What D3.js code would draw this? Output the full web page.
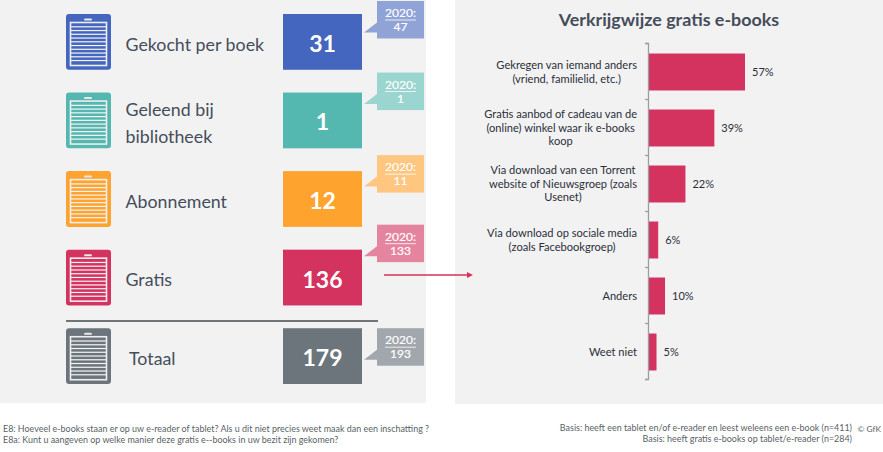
<!DOCTYPE html>
<html>
<head>
<meta charset="utf-8">
<style>
  html, body { margin: 0; padding: 0; background: #fff; overflow: hidden; }
  svg { display: block; }
  text { font-family: Lato, "Open Sans", sans-serif; }
</style>
<script src="https://cdn.jsdelivr.net/npm/d3@7"></script>
</head>
<body>
<svg id="chart" width="883" height="452"></svg>
<script>
// linker kant: aantallen per soort
var rowLabels = [["Gekocht per boek"], ["Geleend bij", "bibliotheek"], ["Abonnement"], ["Gratis"], ["Totaal"]];
var rowValues = [31, 1, 12, 136, 179];
var prevValues = [47, 1, 11, 133, 193];
var prevLabel = "2020:";
var rowColors = ["#4566bf", "#54b8b0", "#ffa32f", "#d4325f", "#6b757b"];
var prevColors = ["#8fa3d6", "#9ad5cf", "#ffc680", "#e5849f", "#a1a7ac"];

// rechter kant: verkrijgwijze
var title = "Verkrijgwijze gratis e-books";
var wayLabels = [
    ["Gekregen van iemand anders", "(vriend, familielid, etc.)"],
    ["Gratis aanbod of cadeau van de", "(online) winkel waar ik e-books", "koop"],
    ["Via download van een Torrent", "website of Nieuwsgroep (zoals", "Usenet)"],
    ["Via download op sociale media", "(zoals Facebookgroep)"],
    ["Anders"],
    ["Weet niet"]
];
var wayValues = [57, 39, 22, 6, 10, 5];

var footLeft = [
    "E8: Hoeveel e-books staan er op uw e-reader of tablet? Als u dit niet precies weet maak dan een inschatting ?",
    "E8a: Kunt u aangeven op welke manier deze gratis e--books in uw bezit zijn gekomen?"
];
var footRight = [
    "Basis: heeft een tablet en/of e-reader en leest weleens een e-book (n=411)",
    "Basis: heeft gratis e-books op tablet/e-reader (n=284)"
];
var copyright = "\u00a9 GfK";

var svg = d3.select("#chart");
var grey = "#f2f2f2", dark = "#454d5a", pink = "#d4325f";

// panelen
svg.append("rect").attr("x", 0).attr("y", 0).attr("width", 426).attr("height", 403).attr("fill", grey);
svg.append("rect").attr("x", 455).attr("y", 0).attr("width", 428).attr("height", 404).attr("fill", grey);

// ---- linker kant ----
var rowY = d3.scaleBand().domain(d3.range(rowValues.length)).range([14, 384]).paddingInner(0.29);
var rowH = rowY.bandwidth();
// de callouts staan in het origineel niet netjes op een lijn
var calloutShift = [-13, -20, -16, -25, 0];

var rows = svg.selectAll("g.row").data(rowValues).enter().append("g")
    .attr("class", "row")
    .attr("transform", function(d, i) { return "translate(0," + rowY(i) + ")"; });

rows.each(function(d, i) {
    var g = d3.select(this), c = rowColors[i];

    // tablet icoon
    g.append("rect").attr("x", 66).attr("y", 0).attr("width", 45).attr("height", rowH).attr("rx", 3).attr("fill", c);
    g.append("rect").attr("x", 84).attr("y", 4.5).attr("width", 8).attr("height", 2).attr("rx", 1).attr("fill", "#e8e8e8");
    g.append("rect").attr("x", 70.5).attr("y", 8.5).attr("width", 36).attr("height", 43)
        .attr("fill", c).attr("stroke", "#eeeeee").attr("stroke-width", 1.6);
    d3.range(10).forEach(function(k) {
        g.append("rect").attr("x", 71).attr("y", 12.2 + k * 3.75).attr("width", 35).attr("height", 1.2).attr("fill", "#f4f4f4");
    });

    // label
    var lx = i === 4 ? 129 : 125.5;
    var lines = rowLabels[i];
    lines.forEach(function(t, k) {
        g.append("text").attr("x", lx).attr("y", rowH / 2 + 2.5 + (k - (lines.length - 1) / 2) * 27)
            .attr("dy", "0.35em").attr("font-size", 17.8).attr("fill", dark).text(t);
    });

    // waarde
    g.append("rect").attr("x", 283).attr("y", 0).attr("width", 79).attr("height", rowH).attr("fill", c);
    g.append("text").attr("x", 322.5).attr("y", rowH / 2 + 2).attr("dy", "0.35em").attr("text-anchor", "middle")
        .attr("font-size", 23).attr("font-weight", 700).attr("fill", "#fff").text(d);

    // callout 2020
    var top = calloutShift[i], bottom = top + 37.5;
    g.append("path").attr("fill", prevColors[i])
        .attr("d", d3.line()([[377, bottom - 16], [364, bottom - 6], [377, bottom - 6]]) + "Z");
    g.append("rect").attr("x", 377).attr("y", top).attr("width", 47).attr("height", 37.5).attr("fill", prevColors[i]);
    g.append("text").attr("x", 400.5).attr("y", top + 12).attr("dy", "0.35em").attr("text-anchor", "middle")
        .attr("font-size", 12).attr("font-weight", 400).attr("stroke", "#fff").attr("stroke-width", 0.2)
        .attr("fill", "#fff").text(prevLabel);
    g.append("line").attr("x1", 385).attr("x2", 416).attr("y1", top + 19).attr("y2", top + 19)
        .attr("stroke", "#fff").attr("stroke-width", 0.8);
    g.append("text").attr("x", 400.5).attr("y", top + 26).attr("dy", "0.35em").attr("text-anchor", "middle")
        .attr("font-size", 12).attr("font-weight", 400).attr("stroke", "#fff").attr("stroke-width", 0.2)
        .attr("fill", "#fff").text(prevValues[i]);
});

// scheidingslijn boven totaal
svg.append("line").attr("x1", 66).attr("x2", 378).attr("y1", 321).attr("y2", 321)
    .attr("stroke", "#454b50").attr("stroke-width", 1.5);

// pijl naar rechter grafiek
svg.append("line").attr("x1", 384).attr("x2", 468).attr("y1", 275).attr("y2", 275)
    .attr("stroke", pink).attr("stroke-width", 1.5);
svg.append("path").attr("fill", pink).attr("d", d3.line()([[467, 272], [473, 275], [467, 278]]) + "Z");

// ---- rechter kant ----
svg.append("text").attr("x", 669).attr("y", 20).attr("dy", "0.35em").attr("text-anchor", "middle")
    .attr("font-size", 17.9).attr("font-weight", 700).attr("fill", dark).text(title);

var x = d3.scaleLinear().domain([0, 57]).range([648, 745]);
var y = d3.scaleBand().domain(d3.range(wayValues.length)).range([44, 380]).paddingInner(0.34).paddingOuter(0.17);

svg.selectAll("rect.bar").data(wayValues).enter().append("rect")
    .attr("class", "bar")
    .attr("x", x(0))
    .attr("y", function(d, i) { return y(i); })
    .attr("width", function(d) { return x(d) - x(0); })
    .attr("height", y.bandwidth())
    .attr("fill", pink);

// as met streepjes tussen de categorieen
var edge = d3.scaleLinear().domain([0, wayValues.length]).range([43, 379]);
var axis = svg.append("g").attr("transform", "translate(648,0)")
    .call(d3.axisLeft(edge).tickValues(d3.range(wayValues.length + 1)).tickFormat("").tickSize(3).tickSizeOuter(3));
axis.selectAll("path, line").attr("stroke", "#9a9ea3").attr("stroke-width", 1.3);

svg.selectAll("text.val").data(wayValues).enter().append("text")
    .attr("class", "val")
    .attr("x", function(d) { return x(d) + 7; })
    .attr("y", function(d, i) { return y(i) + y.bandwidth() / 2; })
    .attr("dy", "0.35em")
    .attr("font-size", 11).attr("fill", "#2b2f3a")
    .text(function(d) { return d + "%"; });

wayLabels.forEach(function(lines, i) {
    var cy = y(i) + y.bandwidth() / 2;
    var g = svg.append("g");
    var t = g.selectAll("text").data(lines).enter().append("text")
        .attr("y", function(d, k) { return cy + (k - (lines.length - 1) / 2) * 13.5; })
        .attr("dy", "0.35em").attr("text-anchor", "middle")
        .attr("font-size", 11.1).attr("fill", "#2b2f3a")
        .text(function(d) { return d; });
    // regels gecentreerd, breedste regel rechts tegen de as
    var w = d3.max(t.nodes(), function(n) { return n.getComputedTextLength(); });
    t.attr("x", 637 - w / 2);
});

// ---- voetnoten ----
footLeft.forEach(function(t, i) {
    svg.append("text").attr("x", 3).attr("y", 429 + i * 11).attr("dy", "0.35em")
        .attr("font-size", 8.95).attr("fill", "#5a5f66").text(t);
});
footRight.forEach(function(t, i) {
    svg.append("text").attr("x", 852).attr("y", 428 + i * 11).attr("dy", "0.35em").attr("text-anchor", "end")
        .attr("font-size", 8.95).attr("fill", "#5a5f66").text(t);
});
// past net binnen de rand
svg.append("text").attr("x", 881).attr("y", 429).attr("dy", "0.35em").attr("text-anchor", "end")
    .attr("font-size", 8.4).attr("fill", "#5a5f66").text(copyright);
</script>
</body>
</html>
